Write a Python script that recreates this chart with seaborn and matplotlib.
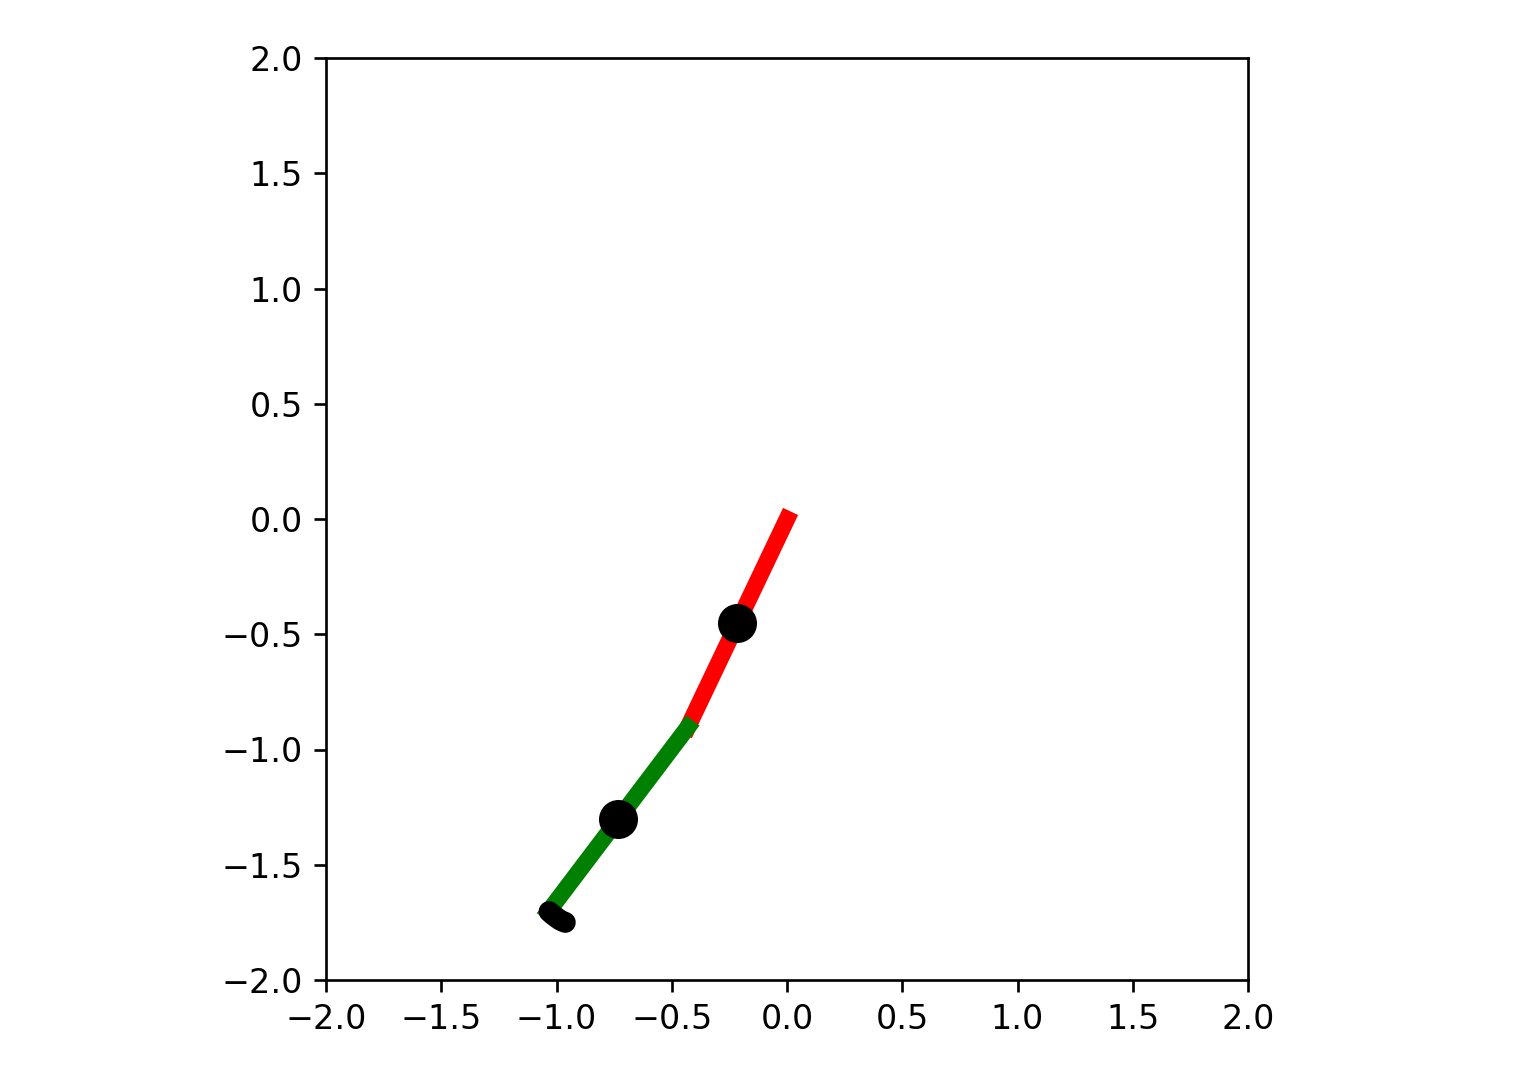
import matplotlib
matplotlib.use("Agg")
import matplotlib.pyplot as plt
import seaborn as sns
import pandas as pd

# Data
pivot = (0.0, 0.0)
bob1 = (-0.43, -0.903)
bob2 = (-1.035, -1.703)
mid1 = (-0.215, -0.452)
mid2 = (-0.733, -1.303)
trace_x = [-1.032, -1.016, -1.0, -0.986, -0.972, -0.962]
trace_y = [-1.703, -1.717, -1.729, -1.739, -1.746, -1.750]
ticks = [-2.0, -1.5, -1.0, -0.5, 0.0, 0.5, 1.0, 1.5, 2.0]

plt.rcParams['font.family'] = ['DejaVu Sans']
plt.rcParams['font.size'] = 10

fig = plt.figure(figsize=(1535/240, 1083/240), dpi=240)
ax = fig.add_axes([325/1535, 103/1083, 924/1535, 922/1083])

rod1 = pd.DataFrame({"x": [pivot[0], bob1[0]], "y": [pivot[1], bob1[1]]})
rod2 = pd.DataFrame({"x": [bob1[0], bob2[0]], "y": [bob1[1], bob2[1]]})
tr = pd.DataFrame({"x": trace_x, "y": trace_y})
mids = pd.DataFrame({"x": [mid1[0], mid2[0]], "y": [mid1[1], mid2[1]]})

sns.lineplot(data=rod1, x="x", y="y", sort=False, color="red", lw=5,
             solid_capstyle="projecting", ax=ax, estimator=None)
sns.lineplot(data=rod2, x="x", y="y", sort=False, color="green", lw=5,
             solid_capstyle="projecting", ax=ax, estimator=None)
sns.lineplot(data=tr, x="x", y="y", sort=False, color="black", lw=6.3,
             solid_capstyle="round", ax=ax, estimator=None)
sns.scatterplot(data=mids, x="x", y="y", color="black", s=137, linewidth=0,
                ax=ax, zorder=5)

ax.set_xlim(-2, 2)
ax.set_ylim(-2, 2)
ax.set_aspect("equal")
ax.set_xticks(ticks)
ax.set_yticks(ticks)
ax.set_xlabel("")
ax.set_ylabel("")
for s in ax.spines.values():
    s.set_visible(True)
    s.set_color("black")
    s.set_linewidth(0.8)
ax.tick_params(direction="out", length=3.5, width=0.8, colors="black")
ax.set_facecolor("white")

fig.savefig("out.png", dpi=240)
